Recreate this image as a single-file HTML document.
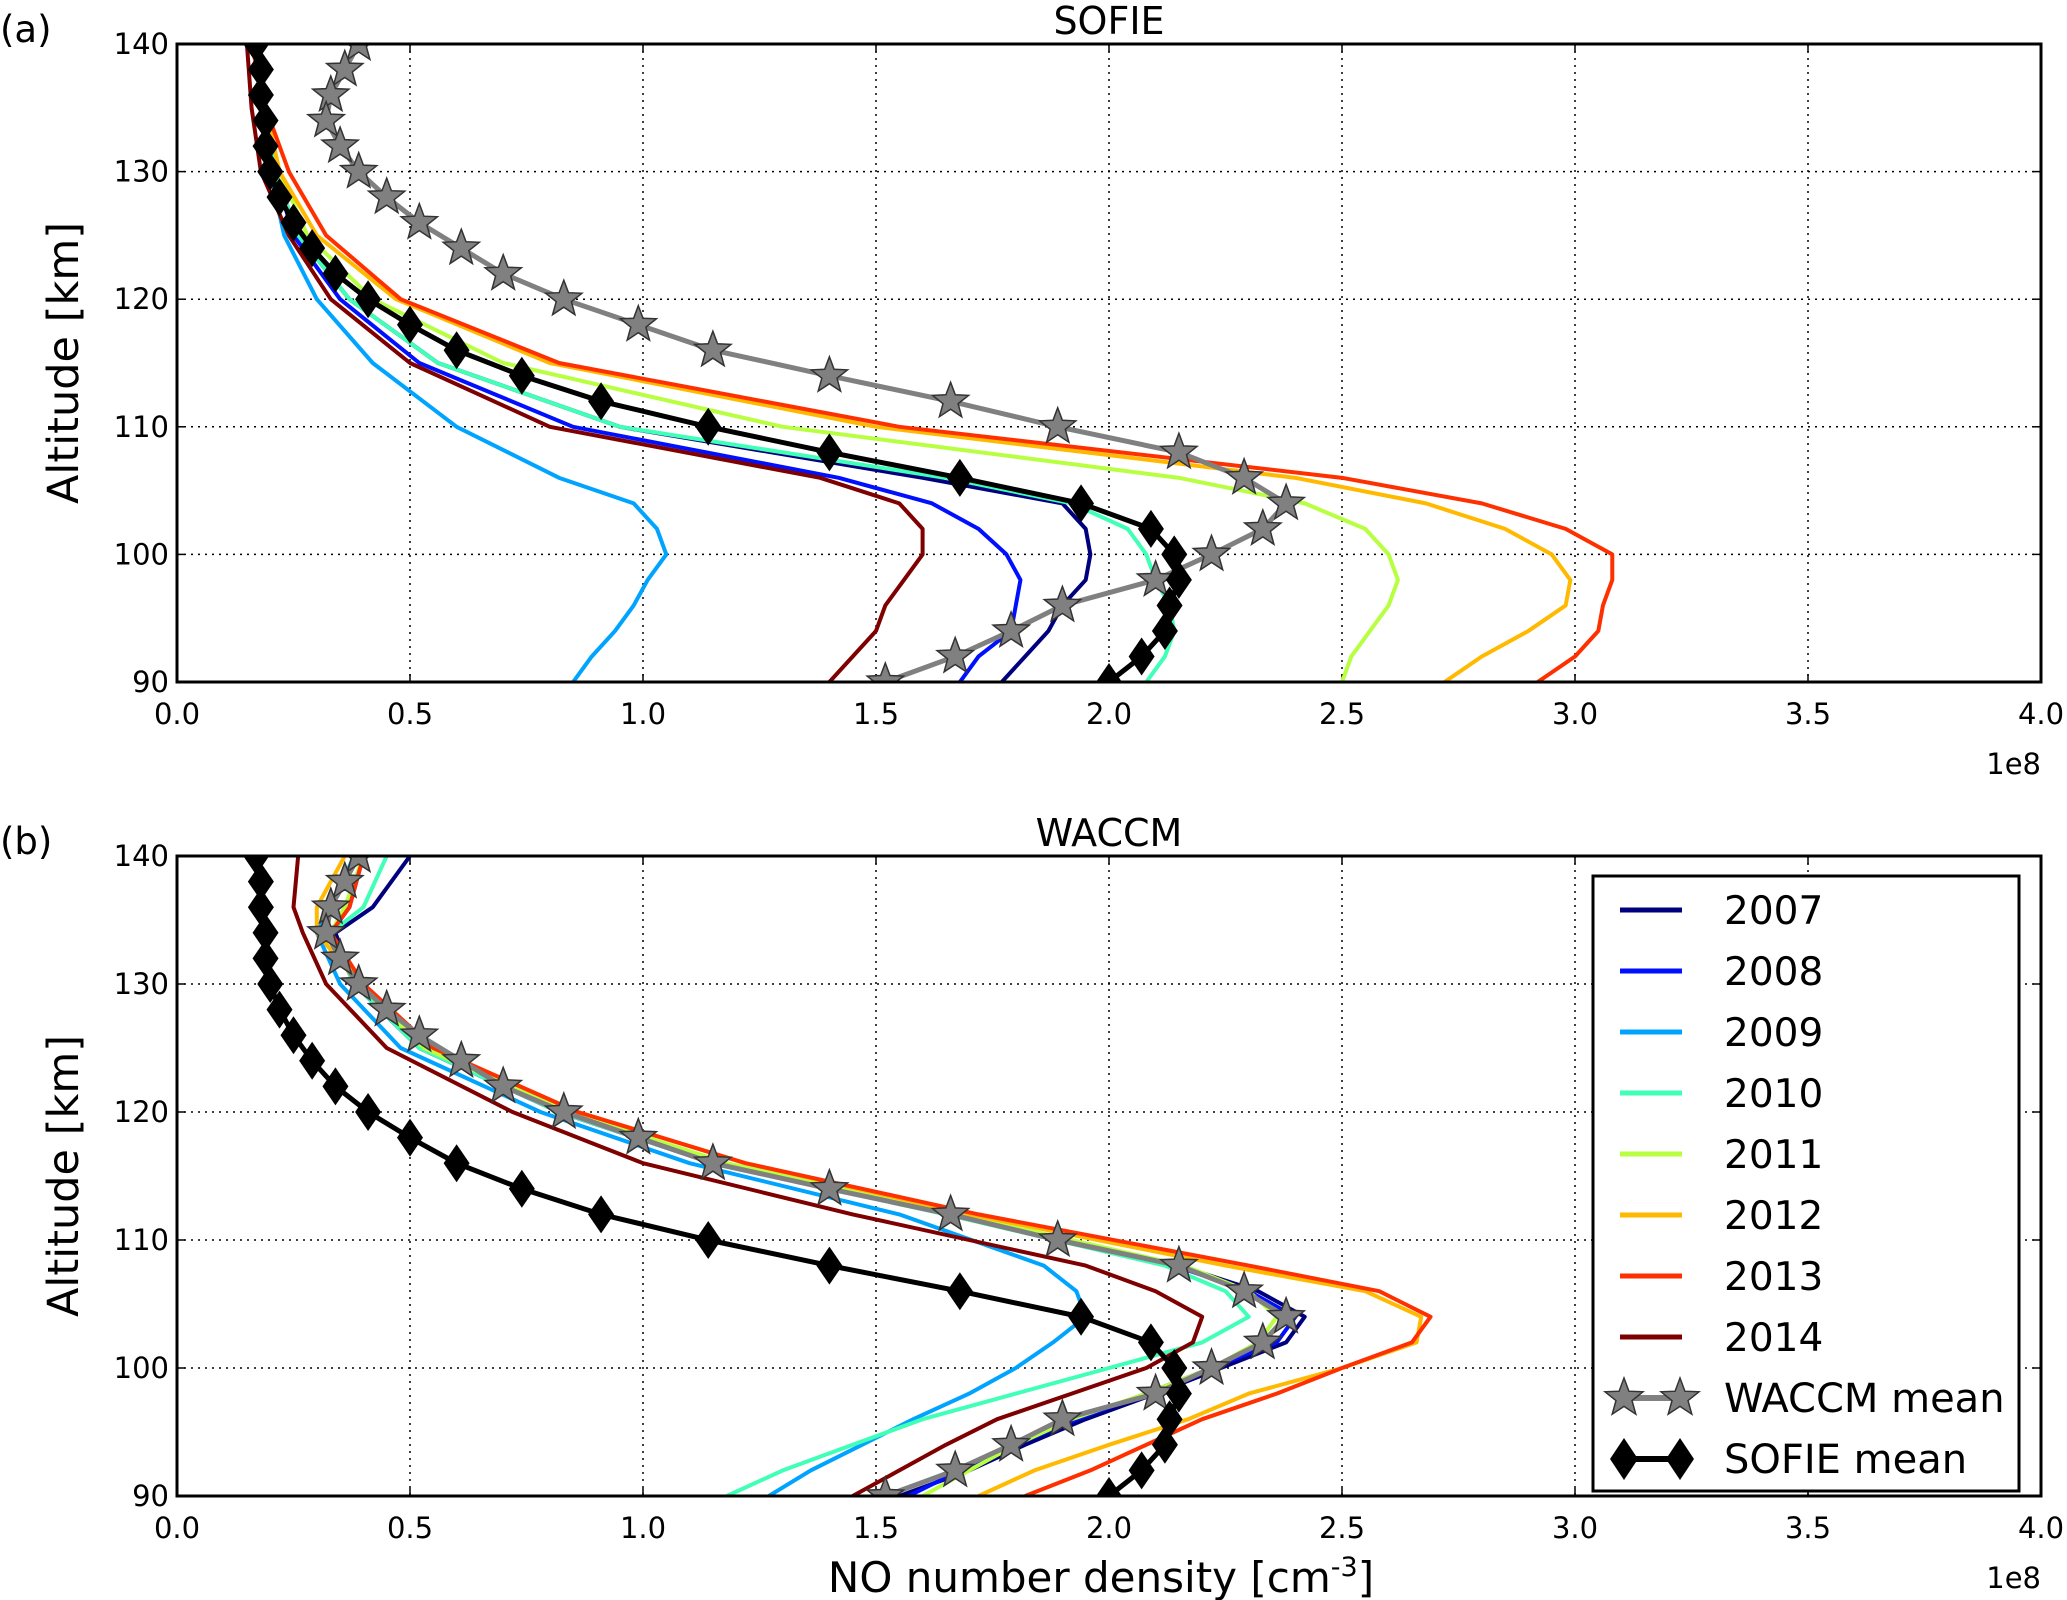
<!DOCTYPE html>
<html><head><meta charset="utf-8"><style>
body{margin:0;background:#fff}
svg{display:block;font-family:"DejaVu Sans","Liberation Sans",sans-serif}
</style></head><body>
<svg id="chart" width="2067" height="1600" viewBox="0 0 2067 1600" xmlns="http://www.w3.org/2000/svg"></svg>
<script>
const xTicks=[0,0.5,1.0,1.5,2.0,2.5,3.0,3.5,4.0];
const xTickLabels=["0.0","0.5","1.0","1.5","2.0","2.5","3.0","3.5","4.0"];
const yTicks=[90,100,110,120,130,140];
const years=["2007","2008","2009","2010","2011","2012","2013","2014"];
const yearColors=["#00007f","#0010ff","#00a4ff","#40ffb7","#b7ff40","#ffb900","#ff3000","#7f0000"];
const meanAlt=[140,138,136,134,132,130,128,126,124,122,120,118,116,114,112,110,108,106,104,102,100,98,96,94,92,90];
const sofieMean=[0.17,0.18,0.18,0.19,0.19,0.20,0.22,0.25,0.29,0.34,0.41,0.50,0.60,0.74,0.91,1.14,1.40,1.68,1.94,2.09,2.14,2.15,2.13,2.12,2.07,2.00];
const waccmMean=[0.39,0.36,0.33,0.32,0.35,0.39,0.45,0.52,0.61,0.70,0.83,0.99,1.15,1.40,1.66,1.89,2.15,2.29,2.38,2.33,2.22,2.10,1.90,1.79,1.67,1.52];
const altA=[140,135,130,125,120,115,110,106,104,102,100,98,96,94,92,90];
const sofie2007=[0.17,0.19,0.21,0.26,0.37,0.56,0.95,1.60,1.90,1.95,1.96,1.95,1.90,1.87,1.82,1.77];
const sofie2008=[0.17,0.19,0.21,0.25,0.35,0.52,0.85,1.42,1.62,1.72,1.78,1.81,1.80,1.79,1.72,1.68];
const sofie2009=[0.17,0.18,0.20,0.23,0.30,0.42,0.60,0.82,0.98,1.03,1.05,1.01,0.98,0.94,0.89,0.85];
const sofie2010=[0.17,0.19,0.21,0.26,0.37,0.56,0.95,1.65,1.92,2.04,2.08,2.10,2.13,2.14,2.12,2.08];
const sofie2011=[0.17,0.19,0.22,0.28,0.42,0.70,1.30,2.15,2.42,2.55,2.60,2.62,2.60,2.56,2.52,2.50];
const sofie2012=[0.16,0.19,0.22,0.30,0.47,0.80,1.50,2.40,2.68,2.85,2.95,2.99,2.98,2.90,2.80,2.72];
const sofie2013=[0.16,0.19,0.24,0.32,0.48,0.82,1.55,2.50,2.80,2.98,3.08,3.08,3.06,3.05,3.00,2.92];
const sofie2014=[0.15,0.16,0.18,0.24,0.33,0.50,0.80,1.38,1.55,1.60,1.60,1.56,1.52,1.50,1.45,1.40];
const altB=[140,136,134,130,125,120,116,112,108,106,104,102,100,98,96,94,92,90];
const waccm2007=[0.50,0.42,0.34,0.38,0.52,0.82,1.15,1.66,2.15,2.32,2.42,2.38,2.24,2.10,1.95,1.82,1.70,1.55];
const waccm2008=[0.40,0.37,0.33,0.38,0.52,0.82,1.15,1.66,2.14,2.30,2.40,2.36,2.22,2.08,1.93,1.80,1.68,1.57];
const waccm2009=[0.38,0.33,0.30,0.35,0.48,0.78,1.10,1.55,1.86,1.93,1.95,1.88,1.80,1.70,1.58,1.47,1.36,1.27];
const waccm2010=[0.45,0.40,0.33,0.38,0.52,0.82,1.15,1.65,2.12,2.25,2.30,2.20,2.00,1.80,1.60,1.45,1.30,1.18];
const waccm2011=[0.40,0.36,0.33,0.39,0.53,0.84,1.18,1.68,2.16,2.30,2.36,2.32,2.22,2.08,1.92,1.80,1.70,1.60];
const waccm2012=[0.36,0.30,0.30,0.39,0.55,0.86,1.22,1.70,2.25,2.55,2.67,2.66,2.50,2.30,2.17,2.00,1.84,1.72];
const waccm2013=[0.40,0.37,0.33,0.40,0.55,0.86,1.22,1.72,2.30,2.58,2.69,2.65,2.50,2.36,2.20,2.08,1.96,1.82];
const waccm2014=[0.26,0.25,0.27,0.32,0.45,0.72,1.00,1.45,1.95,2.10,2.20,2.18,2.08,1.92,1.76,1.65,1.55,1.45];

const NS="http://www.w3.org/2000/svg";
const svg=document.getElementById('chart');
function mk(tag,attrs,parent){const e=document.createElementNS(NS,tag);for(const k in attrs)e.setAttribute(k,attrs[k]);(parent||svg).appendChild(e);return e;}
const L=177,R=2041;
function xs(v){return L+(v-0)/(4-0)*(R-L);}
function starPts(cx,cy,r){let p=[];for(let i=0;i<10;i++){const a=-Math.PI/2+i*Math.PI/5;const rr=i%2?r*0.42:r;p.push((cx+rr*Math.cos(a)).toFixed(1)+','+(cy+rr*Math.sin(a)).toFixed(1));}return p.join(' ');}
function diaPts(cx,cy,w,h){return `${cx},${cy-h} ${cx+w},${cy} ${cx},${cy+h} ${cx-w},${cy}`;}

function panel(id,T,B,title,tag,yearData,yearAlt){
  const ys=v=>B-(v-90)/(140-90)*(B-T);
  const g=mk('g',{});
  
  
  const cid='clip-'+id;
  const cp=mk('clipPath',{id:cid},g);mk('rect',{x:L,y:T,width:R-L,height:B-T},cp);
  xTicks.forEach((v,i)=>{const gl=mk('line',{x1:xs(v),x2:xs(v),y1:T,y2:B,stroke:'#000','stroke-width':1.5,'stroke-dasharray':'2 5'},g);
    
    const t=mk('text',{x:xs(v),y:B+42,'font-size':29,'text-anchor':'middle'},g);t.textContent=xTickLabels[i];
    
    mk('line',{x1:xs(v),x2:xs(v),y1:B,y2:B-8,stroke:'#000','stroke-width':1.5},g);
    mk('line',{x1:xs(v),x2:xs(v),y1:T,y2:T+8,stroke:'#000','stroke-width':1.5},g);});
  yTicks.forEach(v=>{const gl=mk('line',{x1:L,x2:R,y1:ys(v),y2:ys(v),stroke:'#000','stroke-width':1.5,'stroke-dasharray':'2 5'},g);
    
    const t=mk('text',{x:L-8,y:ys(v)+10,'font-size':29,'text-anchor':'end'},g);t.textContent=v;
    
    mk('line',{x1:L,x2:L+8,y1:ys(v),y2:ys(v),stroke:'#000','stroke-width':1.5},g);
    mk('line',{x1:R,x2:R-8,y1:ys(v),y2:ys(v),stroke:'#000','stroke-width':1.5},g);});
  const cg=mk('g',{'clip-path':`url(#${cid})`},g);
  yearData.forEach((arr,i)=>{const p=mk('polyline',{points:arr.map((v,j)=>xs(v)+','+ys(yearAlt[j])).join(' '),fill:'none',stroke:yearColors[i],'stroke-width':4,'stroke-linejoin':'round'},cg);
    });
  const pw=mk('polyline',{points:waccmMean.map((v,j)=>xs(v)+','+ys(meanAlt[j])).join(' '),fill:'none',stroke:'#808080','stroke-width':5},cg);
  
  const ps=mk('polyline',{points:sofieMean.map((v,j)=>xs(v)+','+ys(meanAlt[j])).join(' '),fill:'none',stroke:'#000','stroke-width':5},cg);
  
  waccmMean.forEach((v,j)=>{const s=mk('polygon',{points:starPts(xs(v),ys(meanAlt[j]),19),fill:'#808080',stroke:'#333','stroke-width':1.5},cg);
    });
  sofieMean.forEach((v,j)=>{const s=mk('polygon',{points:diaPts(xs(v),ys(meanAlt[j]),13,19),fill:'#000'},cg);
    });
  const fr=mk('rect',{x:L,y:T,width:R-L,height:B-T,fill:'none',stroke:'#000','stroke-width':3},g);
  
  const tt=mk('text',{x:(L+R)/2,y:T-10,'font-size':38,'text-anchor':'middle'},g);tt.textContent=title;
  
  const tg=mk('text',{x:0,y:T-2,'font-size':37},g);tg.textContent=tag;
  
  const e8=mk('text',{x:R,y:B+92,'font-size':29,'text-anchor':'end'},g);e8.textContent='1e8';
  
  const yl=mk('text',{x:0,y:0,'font-size':43,'text-anchor':'middle',transform:`translate(78,${(T+B)/2}) rotate(-90)`},g);yl.textContent='Altitude [km]';
  
}
panel('panel-sofie',44,682,'SOFIE','(a)',[sofie2007,sofie2008,sofie2009,sofie2010,sofie2011,sofie2012,sofie2013,sofie2014],altA);
panel('panel-waccm',856,1496,'WACCM','(b)',[waccm2007,waccm2008,waccm2009,waccm2010,waccm2011,waccm2012,waccm2013,waccm2014],altB);

const lg=mk('g',{});


mk('rect',{x:1593,y:876,width:426,height:615,fill:'#fff',stroke:'#000','stroke-width':3},lg);
const labels=years.concat(['WACCM mean','SOFIE mean']);
labels.forEach((lab,i)=>{const y=910+i*61;
  const e=mk('g',{},lg);
  
  
  if(i<8){mk('line',{x1:1620,x2:1682,y1:y,y2:y,stroke:yearColors[i],'stroke-width':5},e);}
  else if(i===8){mk('line',{x1:1624,x2:1680,y1:y,y2:y,stroke:'#808080','stroke-width':6},e);
    mk('polygon',{points:starPts(1624,y,20),fill:'#808080',stroke:'#333','stroke-width':1.5},e);
    mk('polygon',{points:starPts(1680,y,20),fill:'#808080',stroke:'#333','stroke-width':1.5},e);}
  else {mk('line',{x1:1624,x2:1680,y1:y,y2:y,stroke:'#000','stroke-width':6},e);
    mk('polygon',{points:diaPts(1624,y,14,21),fill:'#000'},e);
    mk('polygon',{points:diaPts(1680,y,14,21),fill:'#000'},e);}
  const t=mk('text',{x:1724,y:y+14,'font-size':i<8?39:40},e);t.textContent=lab;
});
const xl=mk('text',{x:1101,y:1592,'font-size':42,'text-anchor':'middle'});


xl.innerHTML='NO number density [cm<tspan dy="-16" font-size="27">-3</tspan><tspan dy="16">]</tspan>';
</script>
</body></html>
